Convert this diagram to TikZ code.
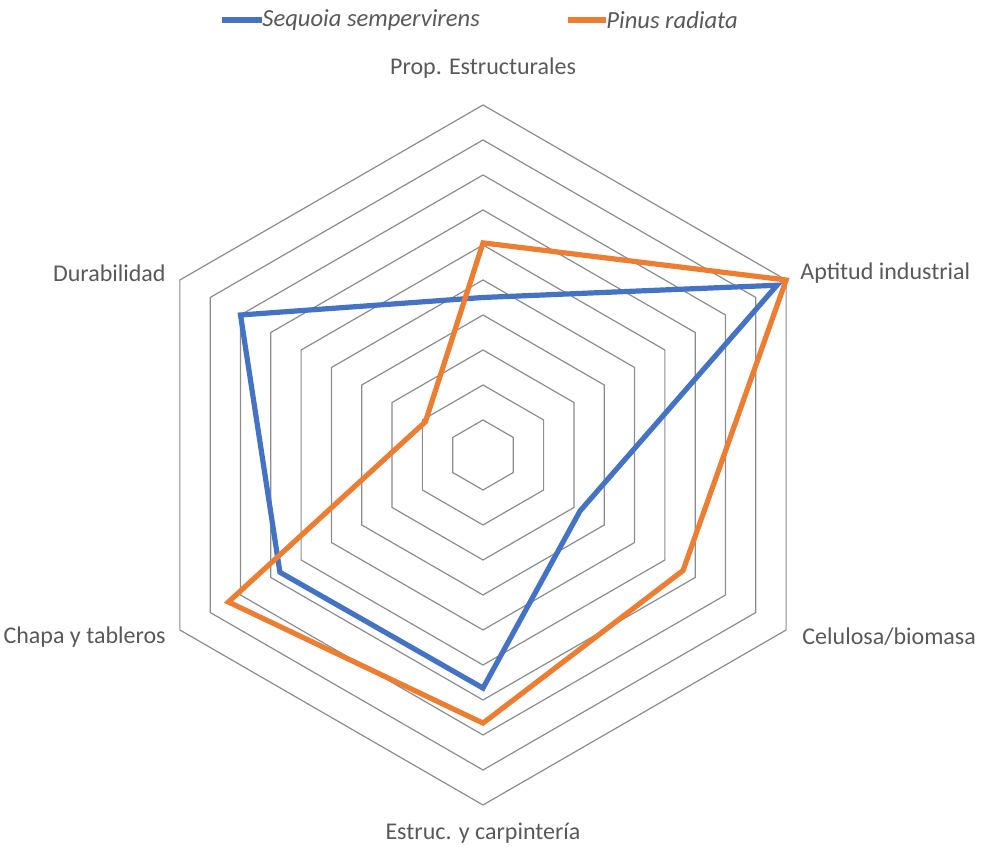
\documentclass[tikz,border=0pt]{standalone}
\usepackage{fontspec}
\setmainfont{Carlito}
\definecolor{seqblue}{HTML}{4472C4}
\definecolor{pinorange}{HTML}{ED7D31}
\definecolor{labelgray}{HTML}{595959}
\definecolor{ringgray}{HTML}{8C8C8C}
\tikzset{x=0.5pt,y=0.5pt,
    ring/.style={draw=ringgray,line width=0.6pt,line join=miter},
    series/.style={line width=2.6pt,line join=miter},
    axislabel/.style={text=labelgray,font=\fontsize{12}{14}\selectfont,inner sep=0pt},
    legendlabel/.style={text=labelgray,font=\fontsize{12.3}{14}\itshape,inner sep=0pt,anchor=west},
    }
\begin{document}
\begin{tikzpicture}
\useasboundingbox (0,0) rectangle (994,849);
\begin{scope}[shift={(483,394)}]
% hexagonal grid, 10 rings
\foreach \r in {1,...,10}
  \draw[ring] (90:\r*35) -- (30:\r*35) -- (-30:\r*35) -- (-90:\r*35)
     -- (-150:\r*35) -- (150:\r*35) -- cycle;
% axis labels
\node[axislabel,anchor=south] (prop) at (90:376) {Prop. Estructurales};
\node[axislabel,anchor=west] (apt) at (317,182) {Aptitud industrial};
\node[axislabel,anchor=west] (cel) at (319,-182) {Celulosa/biomasa};
\node[axislabel,anchor=north] (est) at (-90:368) {Estruc. y carpintería};
\node[axislabel,anchor=east] (chapa) at (-317,-182) {Chapa y tableros};
\node[axislabel,anchor=east] (dur) at (-317,182) {Durabilidad};
% Sequoia sempervirens
\coordinate (s1) at (90:4.5*35);
\coordinate (s2) at (30:9.7*35);
\coordinate (s3) at (-30:3.2*35);
\coordinate (s4) at (-90:6.66*35);
\coordinate (s5) at (-150:6.7*35);
\coordinate (s6) at (150:8*35);
\draw[series,seqblue] (s1) -- (s2) -- (s3) -- (s4) -- (s5) -- (s6) -- cycle;
% Pinus radiata
\coordinate (p1) at (90:6.06*35);
\coordinate (p2) at (30:10*35);
\coordinate (p3) at (-30:6.6*35);
\coordinate (p4) at (-90:7.66*35);
\coordinate (p5) at (-150:8.4*35);
\coordinate (p6) at (150:1.9*35);
\draw[series,pinorange] (p1) -- (p2) -- (p3) -- (p4) -- (p5) -- (p6) -- cycle;
\end{scope}
% legend
\coordinate (lg1) at (222,829);
\node[legendlabel] (seq) at (262,829) {Sequoia sempervirens};
\draw[series,seqblue,line cap=butt] (lg1) -- (seq.west);
\coordinate (lg2) at (568,829);
\node[legendlabel] (pin) at (606,829) {Pinus radiata};
\draw[series,pinorange,line cap=butt] (lg2) -- (pin.west);
\end{tikzpicture}
\end{document}
